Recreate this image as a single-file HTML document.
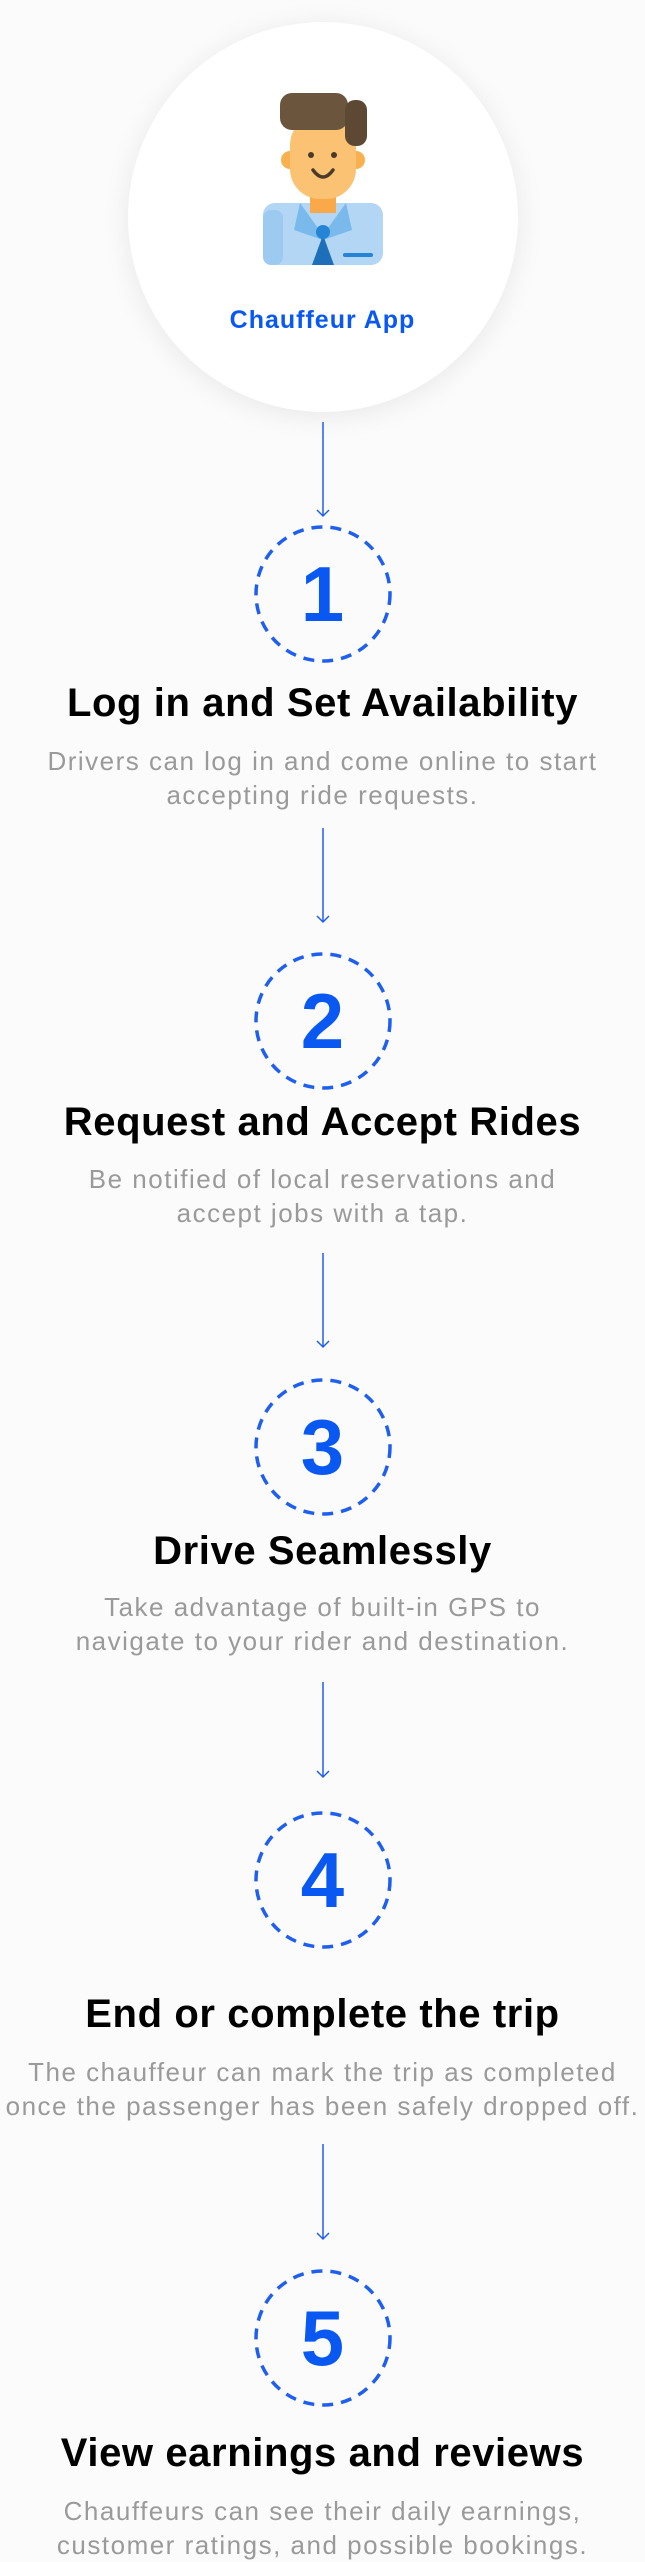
<!DOCTYPE html>
<html><head><meta charset="utf-8"><style>
*{margin:0;padding:0;box-sizing:border-box}
body{width:645px;height:2560px;background:#fbfbfb;position:relative;overflow:hidden;font-family:"Liberation Sans",sans-serif}
.big{position:absolute;left:128px;top:22px;width:390px;height:390px;border-radius:50%;background:#fff;box-shadow:0 4px 28px rgba(0,0,0,0.08)}
.app{position:absolute;left:0;width:645px;top:306px;text-align:center;color:#0a58f2;font-weight:bold;font-size:25px;letter-spacing:1px}
.t{position:absolute;left:0;width:645px;text-align:center;white-space:nowrap}
.h{font-weight:bold;font-size:40px;color:#000;line-height:46px;letter-spacing:0.6px}
.d{font-size:26px;color:#9a9a9a;line-height:34px;letter-spacing:1.5px}
.n{font-weight:bold;font-size:78px;color:#0a58f2;line-height:80px}
svg{position:absolute;left:0;top:0}
</style></head><body>
<div class="big"></div>
<svg width="645" height="2560">
<g>
<rect x="263" y="203" width="120" height="62" rx="12" fill="#b3d6f5"/>
<rect x="263" y="210" width="20" height="55" rx="8" fill="#9ccaf0"/>
<rect x="310" y="195" width="26" height="18" fill="#f9a94a"/>
<polygon points="300,203 323,235 346,203 352,230 323,240 294,230" fill="#7ab9ec"/>
<polygon points="323,235 312,265 334,265" fill="#1c6fb8"/>
<circle cx="323" cy="232" r="7" fill="#2584d6"/>
<rect x="343" y="253" width="30" height="4" rx="2" fill="#2584d6"/>
<circle cx="290" cy="160" r="9" fill="#f9b04f"/>
<circle cx="356" cy="160" r="9" fill="#f9b04f"/>
<rect x="290" y="115" width="66" height="84" rx="30" fill="#fcc274"/>
<rect x="280" y="93" width="68" height="37" rx="12" fill="#6b553c"/>
<rect x="345" y="100" width="22" height="46" rx="10" fill="#5d4933"/>
<circle cx="311" cy="155" r="3" fill="#4a3a2a"/>
<circle cx="334" cy="155" r="3" fill="#4a3a2a"/>
<path d="M313 170 Q323 184 333 170" stroke="#4a3a2a" stroke-width="3.5" fill="none" stroke-linecap="round"/>
</g>
<g stroke="#1f5ff0" stroke-width="1.5" fill="none">
<path d="M323 422V516M317 510L323 516L329 510"/>
<path d="M323 828V922M317 916L323 922L329 916"/>
<path d="M323 1253V1347M317 1341L323 1347L329 1341"/>
<path d="M323 1682V1777M317 1771L323 1777L329 1771"/>
<path d="M323 2144V2239M317 2233L323 2239L329 2233"/>
</g>
<g stroke="#1f5ff0" stroke-width="3.5" fill="none" stroke-dasharray="11 8">
<circle cx="323" cy="594" r="67"/>
<circle cx="323" cy="1021" r="67"/>
<circle cx="323" cy="1447" r="67"/>
<circle cx="323" cy="1880" r="67"/>
<circle cx="323" cy="2338" r="67"/>
</g>
</svg>
<div class="app">Chauffeur App</div>

<div class="t n" style="top:554px">1</div>
<div class="t h" style="top:680px">Log in and Set Availability</div>
<div class="t d" style="top:744px">Drivers can log in and come online to start<br>accepting ride requests.</div>

<div class="t n" style="top:981px">2</div>
<div class="t h" style="top:1099px">Request and Accept Rides</div>
<div class="t d" style="top:1162px">Be notified of local reservations and<br>accept jobs with a tap.</div>

<div class="t n" style="top:1407px">3</div>
<div class="t h" style="top:1528px">Drive Seamlessly</div>
<div class="t d" style="top:1590px">Take advantage of built-in GPS to<br>navigate to your rider and destination.</div>

<div class="t n" style="top:1840px">4</div>
<div class="t h" style="top:1991px">End or complete the trip</div>
<div class="t d" style="top:2055px">The chauffeur can mark the trip as completed<br>once the passenger has been safely dropped off.</div>

<div class="t n" style="top:2298px">5</div>
<div class="t h" style="top:2430px">View earnings and reviews</div>
<div class="t d" style="top:2494px">Chauffeurs can see their daily earnings,<br>customer ratings, and possible bookings.</div>
</body></html>
